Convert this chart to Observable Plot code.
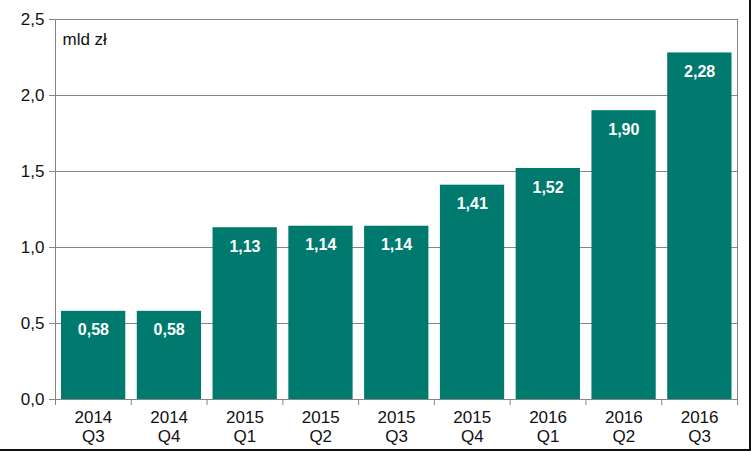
<!DOCTYPE html>
<html>
<head>
<meta charset="utf-8">
<script src="https://cdn.jsdelivr.net/npm/d3@7"></script>
<script src="https://cdn.jsdelivr.net/npm/@observablehq/plot@0.6"></script>
<style>
  html, body { margin: 0; padding: 0; background: #fff; }
  #wrap { position: relative; width: 749px; height: 449px; border-right: 2px solid #111; border-bottom: 2px solid #111; overflow: hidden; }
  svg { font-family: "Liberation Sans", Arial, sans-serif; }
</style>
</head>
<body>
<div id="wrap"></div>
<script>
const years = ["2014", "2014", "2015", "2015", "2015", "2015", "2016", "2016", "2016"];
const quarters = ["Q3", "Q4", "Q1", "Q2", "Q3", "Q4", "Q1", "Q2", "Q3"];
const values = [0.58, 0.58, 1.13, 1.14, 1.14, 1.41, 1.52, 1.90, 2.28];
const yTicks = [0, 0.5, 1.0, 1.5, 2.0, 2.5];
const unitLabel = "mld zł";

const data = values.map((v, i) => ({i, v, label: years[i] + "\n" + quarters[i], text: v.toFixed(2).replace(".", ",")}));
const grid = "#868686";
const ink = "#111";
const fmt = d => d.toFixed(1).replace(".", ",");

const chart = Plot.plot({
  width: 749,
  height: 449,
  marginLeft: 55,
  marginRight: 12,
  marginTop: 19,
  marginBottom: 50,
  style: {fontFamily: "'Liberation Sans', Arial, sans-serif", fontSize: "17px", color: ink, background: "#fff"},
  x: {type: "linear", domain: [0, values.length]},
  y: {domain: [0, 2.5]},
  marks: [
    Plot.gridY(yTicks, {stroke: grid, strokeOpacity: 1}),
    Plot.rectY(data, {x1: "i", x2: d => d.i + 1, y: "v", fill: "#007A6E", insetLeft: 6, insetRight: 5.5}),
    Plot.ruleX([0, values.length], {stroke: grid}),
    Plot.ruleY([0], {stroke: grid}),
    Plot.axisY({ticks: yTicks, tickFormat: fmt, tickSize: 6, tickPadding: 5, stroke: grid, fill: ink, fontSize: 17, label: null}),
    Plot.axisX({ticks: d3.range(values.length + 1), tickSize: 6, tickFormat: () => "", stroke: grid, label: null}),
    Plot.text(data, {x: d => d.i + 0.5, y: 0, text: "label", lineAnchor: "top", dy: 10, lineHeight: 1.13, fontSize: 17, fill: ink}),
    Plot.text(data, {x: d => d.i + 0.5, y: "v", text: "text", dy: 19, fill: "#fff", fontWeight: "bold", fontSize: 16}),
    Plot.text([unitLabel], {frameAnchor: "top-left", dx: 7, dy: 13, fontSize: 17, fill: ink, textAnchor: "start"})
  ]
});
document.getElementById("wrap").appendChild(chart);
</script>
</body>
</html>
